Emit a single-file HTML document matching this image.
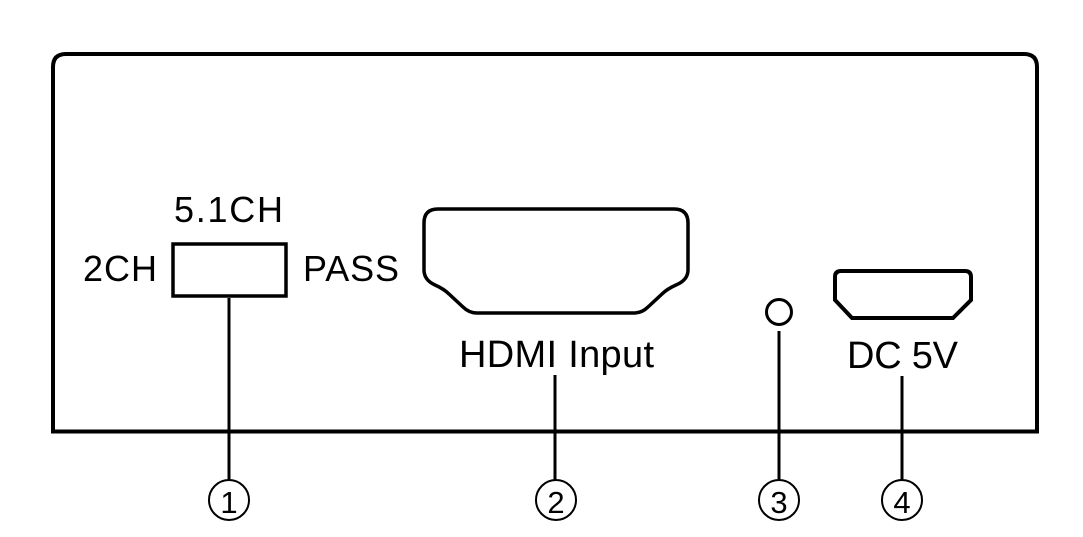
<!DOCTYPE html>
<html><head><meta charset="utf-8"><style>
html,body{margin:0;padding:0;background:#fff;}
svg{display:block;}
text{font-family:"Liberation Sans",Arial,sans-serif;fill:#000;}
</style></head><body>
<svg width="1083" height="537" viewBox="0 0 1083 537" xmlns="http://www.w3.org/2000/svg">
<rect width="1083" height="537" fill="#fff"/>
<!-- outer panel -->
<path d="M53,431.5 V67 Q53,54 66,54 H1024 Q1037,54 1037,67 V431.5 Z" fill="none" stroke="#000" stroke-width="4"/>
<!-- switch -->
<rect x="173" y="244" width="113" height="52" fill="none" stroke="#000" stroke-width="3.5"/>
<text x="174" y="222" font-size="36" textLength="109">5.1CH</text>
<text x="83" y="281" font-size="36" textLength="74">2CH</text>
<text x="303" y="281" font-size="36" textLength="96">PASS</text>
<!-- HDMI port -->
<path d="M438,209 H674 Q688,209 688,223 V270 Q688,280 676,285 Q667,289 662,294 L648,307 Q642,313 634,313 H477 Q469,313 463,307 L449,294 Q444,289 435,285 Q424,280 424,270 V223 Q424,209 438,209 Z" fill="none" stroke="#000" stroke-width="3.5"/>
<text x="459" y="367" font-size="38" textLength="195">HDMI Input</text>
<!-- LED -->
<circle cx="779" cy="312" r="12.5" fill="none" stroke="#000" stroke-width="3"/>
<!-- DC port -->
<path d="M841,271 H965 Q971,271 971,277 V300 L953,318 H852 L835,300 V277 Q835,271 841,271 Z" fill="none" stroke="#000" stroke-width="4"/>
<text x="847" y="368" font-size="38" textLength="111">DC 5V</text>
<!-- leader lines -->
<g stroke="#000" stroke-width="3">
<line x1="229" y1="298" x2="229" y2="481"/>
<line x1="555" y1="375" x2="555" y2="481"/>
<line x1="779" y1="331" x2="779" y2="481"/>
<line x1="902" y1="376" x2="902" y2="481"/>
</g>
<!-- numbered circles -->
<g fill="none" stroke="#000" stroke-width="2">
<circle cx="229" cy="500" r="20"/>
<circle cx="556" cy="500" r="20"/>
<circle cx="779" cy="500" r="20"/>
<circle cx="902" cy="500" r="20"/>
</g>
<g font-size="31" text-anchor="middle">
<text x="229" y="513">1</text>
<text x="556" y="513">2</text>
<text x="779" y="513">3</text>
<text x="902" y="513">4</text>
</g>
</svg>
</body></html>
